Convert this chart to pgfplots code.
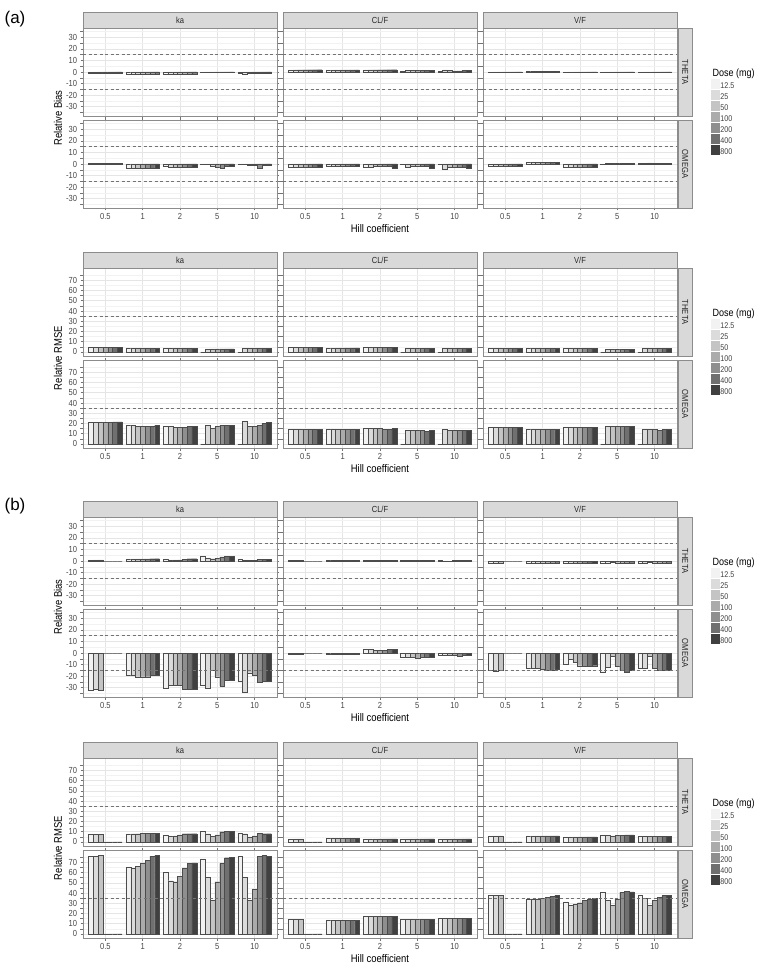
\documentclass[border=0pt]{standalone}
\usepackage{fontspec}
\setmainfont{Liberation Sans}[FakeStretch=0.86]
\newfontfamily\tagfont{Liberation Sans}
\usepackage{pgfplots}
\usepackage{pgfplotstable}
\pgfplotsset{compat=1.18}

\definecolor{g1}{gray}{0.95}
\definecolor{g2}{gray}{0.86}
\definecolor{g3}{gray}{0.77}
\definecolor{g4}{gray}{0.67}
\definecolor{g5}{gray}{0.56}
\definecolor{g6}{gray}{0.44}
\definecolor{g7}{gray}{0.25}
\definecolor{barline}{gray}{0.30}
\definecolor{stripfill}{gray}{0.85}
\definecolor{border}{gray}{0.55}
\definecolor{gridmaj}{gray}{0.90}
\definecolor{gridmin}{gray}{0.95}
\definecolor{refc}{gray}{0.45}

\newcommand\tickfont{\fontsize{8.8}{10}\selectfont}
\newcommand\stripfont{\fontsize{8.8}{10}\selectfont}
\newcommand\titlefont{\fontsize{11}{13}\selectfont}
\newcommand\legfont{\fontsize{8.3}{9}\selectfont}
\newcommand\legtitle{\fontsize{10.5}{12}\selectfont}

% ---- data: rows = Hill coefficient 0.5,1,2,5,10 ; columns = dose 12.5 ... 800 mg
% (a) relative bias
\pgfplotstableread{
h d1 d2 d3 d4 d5 d6 d7
1 -1 -1 -1 -1 -1 -1 -1
2 -1.5 -1.5 -1.5 -1.5 -1.5 -1.5 -1.5
3 -1.5 -1.5 -1.5 -1.5 -1.5 -1.5 -1.5
4 -0.3 -0.3 -0.3 -0.3 -0.3 -0.3 -0.3
5 -1 -1.5 -1 -1 -1 -1 -1
}\aBTka
\pgfplotstableread{
h d1 d2 d3 d4 d5 d6 d7
1 2 2 2 2 2 2 2
2 1.8 1.8 1.8 1.8 1.8 1.8 1.8
3 2 2 2 2 2 2 2
4 0.3 1.5 1.2 1.2 1.5 1.2 1.2
5 0.3 1.8 1.5 1 1 1.2 1.2
}\aBTcl
\pgfplotstableread{
h d1 d2 d3 d4 d5 d6 d7
1 0.2 0.2 0.2 0.2 0.2 0.2 0.2
2 0.7 0.7 0.7 0.7 0.7 0.7 0.7
3 -0.3 -0.3 -0.3 -0.3 -0.3 -0.3 -0.3
4 0.2 0.2 0.2 0.2 0.2 0.2 0.2
5 0.2 0.2 0.2 0.2 0.2 0.2 0.2
}\aBTvf
\pgfplotstableread{
h d1 d2 d3 d4 d5 d6 d7
1 0.3 0.3 0.3 0.3 0.3 0.3 0.3
2 -3.5 -3.5 -3.5 -3.5 -3.5 -3.5 -3.5
3 -2 -3 -3 -3 -3 -3 -3
4 -0.5 -0.5 -1.5 -2.5 -3.5 -2 -2
5 -0.5 -0.5 -1 -1 -3.5 -1 -1
}\aBOka
\pgfplotstableread{
h d1 d2 d3 d4 d5 d6 d7
1 -2.5 -2.5 -2.5 -2.5 -2.5 -2.5 -2.5
2 -1.8 -1.8 -1.8 -1.8 -1.8 -1.8 -1.8
3 -2.5 -2.5 -2 -2 -2 -2 -3.5
4 -0.3 -2.5 -2 -1.5 -2 -2 -3.5
5 -0.5 -4.5 -3 -2.5 -2.5 -3 -3.5
}\aBOcl
\pgfplotstableread{
h d1 d2 d3 d4 d5 d6 d7
1 -2 -2 -2 -2 -2 -2 -2
2 1.5 1.5 1.5 1.5 1.5 1.5 1.5
3 -2.5 -2.5 -2.5 -2.5 -2.5 -2.5 -2.5
4 0.2 0.7 0.7 0.7 0.7 0.7 0.7
5 0.3 0.8 1 0.8 0.8 0.8 0.8
}\aBOvf
% (a) relative RMSE
\pgfplotstableread{
h d1 d2 d3 d4 d5 d6 d7
1 4.5 4.5 4.5 4.5 4.5 4.5 4.5
2 3.8 3.8 3.8 3.8 3.8 3.8 3.8
3 3.8 3.8 3.8 3.8 3.8 3.8 3.8
4 0 3 3 3 3 3 3
5 0 3.8 3.8 3.8 3.8 3.8 3.8
}\aRTka
\pgfplotstableread{
h d1 d2 d3 d4 d5 d6 d7
1 4.2 4.2 4.2 4.2 4.2 4.2 4.2
2 4 4 4 4 4 4 4
3 4.5 4.5 4.5 4.5 4.5 4.5 4.5
4 0 3.5 3.5 3.5 3.5 3.5 3.5
5 0 3.3 3.3 3.3 3.3 3.3 3.3
}\aRTcl
\pgfplotstableread{
h d1 d2 d3 d4 d5 d6 d7
1 3.3 3.3 3.3 3.3 3.3 3.3 3.3
2 3.5 3.5 3.5 3.5 3.5 3.5 3.5
3 3.3 3.3 3.3 3.3 3.3 3.3 3.3
4 0 2.8 2.8 2.8 2.8 2.8 2.8
5 0 3.2 3.2 3.8 3.2 3.2 3.2
}\aRTvf
\pgfplotstableread{
h d1 d2 d3 d4 d5 d6 d7
1 21 21 21 21 21 21.5 21.5
2 18 18 17.5 17.5 17.5 17.5 18
3 17.5 17 16.5 16 16.5 17 17.5
4 0 18 15.5 17 18 18 18
5 0 22 17 17.5 18 20 21
}\aROka
\pgfplotstableread{
h d1 d2 d3 d4 d5 d6 d7
1 14 14 14 14 14 14 14
2 14 14 14 14 14 14 14
3 15 15 15 15 14.5 14.5 15
4 0 13.5 13.5 13 13 12.5 13.5
5 0 14 13.5 13 13 13.5 13.5
}\aROcl
\pgfplotstableread{
h d1 d2 d3 d4 d5 d6 d7
1 16.5 16.5 16.5 16.5 16.5 16.5 16.5
2 14.5 14.5 14.5 14 14 14 14
3 16.5 16.5 16 16 16 16 16
4 0 17.5 17 17 17 17 17
5 0 14 14 14 13.5 14 14
}\aROvf
% (b) relative bias
\pgfplotstableread{
h d1 d2 d3 d4 d5 d6 d7
1 1 1 1 0 0 0 0
2 1.8 1.8 1.8 1.8 1.8 2 2
3 1.8 1 1 1 1.5 2 2
4 3.8 2.8 2 2.5 3.5 3.8 3.8
5 1.8 1 0.5 0.8 1.2 1.5 1.5
}\bBTka
\pgfplotstableread{
h d1 d2 d3 d4 d5 d6 d7
1 0.5 0.5 0.5 0 0 0 0
2 0.5 0.5 0.5 0.5 0.5 0.5 0.5
3 0.3 0.3 0.3 0.3 0.3 0.3 0.3
4 0.3 0.3 0.3 0.3 0.3 0.3 0.3
5 0.3 0.2 -0.3 0.3 0.4 0.4 0.4
}\bBTcl
\pgfplotstableread{
h d1 d2 d3 d4 d5 d6 d7
1 -2 -2 -2 0 0 0 0
2 -1.5 -1.5 -1.5 -1.5 -1.5 -1.5 -1.5
3 -1.8 -1.8 -1.8 -1.8 -1.8 -1.8 -1.8
4 -1.5 -1.5 -1 -1.5 -1.5 -1.5 -1.5
5 -1.5 -1.8 -1 -1.5 -1.5 -1.5 -1.5
}\bBTvf
\pgfplotstableread{
h d1 d2 d3 d4 d5 d6 d7
1 -32 -31 -32 0 0 0 0
2 -19.5 -19.5 -20.5 -20.5 -20.5 -19 -19
3 -30 -28 -27.5 -28 -31 -31.5 -31
4 -27.5 -30 -15 -20.5 -28.5 -23.5 -23.5
5 -24.5 -34 -17 -19.5 -25.5 -24 -24
}\bBOka
\pgfplotstableread{
h d1 d2 d3 d4 d5 d6 d7
1 -1 -1 -1 0 0 0 0
2 -1 -1 -1 -1 -1 -1 -1
3 3 3 2.5 2.5 2.5 3 3
4 -3.5 -3.5 -4 -4.5 -4 -3.5 -3.5
5 -1.5 -1.5 -2 -2 -3 -2 -2
}\bBOcl
\pgfplotstableread{
h d1 d2 d3 d4 d5 d6 d7
1 -15 -15.5 -14.5 0 0 0 0
2 -13.5 -13.5 -13.5 -14 -14.5 -15 -14
3 -10 -5 -8 -11 -11.5 -11.5 -11
4 -16.5 -12 -3 -11.5 -15 -16.5 -15
5 -13.5 -13.5 -3 -13.5 -15 -14.5 -14.5
}\bBOvf
% (b) relative RMSE
\pgfplotstableread{
h d1 d2 d3 d4 d5 d6 d7
1 7.5 7.5 7.5 0 0 0 0
2 8 8 8 8.5 8.5 8.5 8.5
3 7 6 6 7 8 8 8
4 10.5 8 5.5 7 10 10.5 10.5
5 8.5 8 5 6 8.5 8 8
}\bRTka
\pgfplotstableread{
h d1 d2 d3 d4 d5 d6 d7
1 3 3 3 0 0 0 0
2 3.5 3.5 3.5 3.5 3.5 3.5 3.5
3 3 3 3 3 3 3 3
4 3 3 3 3 3 3 3
5 3 3 3 3 3 3 3
}\bRTcl
\pgfplotstableread{
h d1 d2 d3 d4 d5 d6 d7
1 6 6 6 0 0 0 0
2 6 6 6 6 6 6 6
3 5 5 5 5 5 5 5
4 7 6.5 6 6.5 6.5 7 7
5 5.5 5.5 5.5 5.5 5.5 5.5 5.5
}\bRTvf
\pgfplotstableread{
h d1 d2 d3 d4 d5 d6 d7
1 76 76 77 0 0 0 0
2 65.5 64 66 69 72 76 76.5
3 60 52 51 56 64.5 69 69.5
4 73.5 55 33 51 69 74.5 75
5 76 55.5 33 44 75.5 76.5 76
}\bROka
\pgfplotstableread{
h d1 d2 d3 d4 d5 d6 d7
1 14 14 14 0 0 0 0
2 13.5 13.5 13.5 13.5 13.5 13.5 13.5
3 17 17 17 17 17 17 17
4 14.5 14.5 14.5 14.5 14.5 14.5 14.5
5 15 15 15 15 15 15 15
}\bROcl
\pgfplotstableread{
h d1 d2 d3 d4 d5 d6 d7
1 37.5 37.5 37.5 0 0 0 0
2 33.5 33.5 34 34.5 35.5 37 37.5
3 31.5 28 29 30.5 32.5 34 34.5
4 40.5 32.5 28 34 40.5 41.5 41
5 37.5 35 28 32.5 35.5 37.5 37.5
}\bROvf

\pgfplotsset{
  facet/.style={
    anchor=north west, scale only axis, width=194pt, height=88pt,
    xmin=0.4, xmax=5.6, xtick={1,2,3,4,5}, xticklabels={0.5,1,2,5,10},
    axis line style={draw=border, line width=0.6pt},
    xmajorgrids=true, ymajorgrids=true, yminorgrids=true,
    major grid style={draw=gridmaj, line width=0.5pt},
    minor grid style={draw=gridmin, line width=0.3pt},
    xminorticks=false, yminorticks=false,
    tick align=outside, major tick length=2.5pt,
    tick style={draw=black!55, line width=0.5pt},
    tick label style={font=\tickfont, text=black!72},
    xticklabel style={yshift=1pt},
    clip=false,
  },
  biasy/.style={ymin=-38, ymax=38, ytick={-30,-20,-10,0,10,20,30},
    yticklabels={-30,-20,-10,0,10,20,30},
    minor ytick={-35,-25,-15,-5,5,15,25,35}},
  rmsey/.style={ymin=-4, ymax=82, ytick={0,10,20,30,40,50,60,70},
    yticklabels={0,10,20,30,40,50,60,70},
    minor ytick={5,15,25,35,45,55,65,75}},
  inner/.style={yticklabels={}, ymajorticks=false},
  toprow/.style={xticklabels={}, xmajorticks=false},
  dose/.style 2 args={ybar, bar width=0.128571, bar shift=#1,
    fill=#2, draw=barline, line width=0.35pt},
  doselegend/.style={
    legend entries={12.5,25,50,100,200,400,800},
    legend image code/.code={\fill[##1, draw=none] (0pt,-2.5pt) rectangle (9.5pt,7.3pt);},
    legend cell align=left,
    legend style={at={(1.175,0.42)}, anchor=north west, draw=none, fill=none,
      inner sep=0pt, outer sep=0pt, row sep=0pt, font=\legfont, text=black!75,
      nodes={inner sep=0pt, outer sep=0pt},
      /tikz/every even column/.append style={column sep=2.5pt}},
  },
}

\newcommand\bars[1]{%
  \addplot[dose={-0.385714}{g1}] table[x=h, y=d1] {#1};
  \addplot[dose={-0.257143}{g2}] table[x=h, y=d2] {#1};
  \addplot[dose={-0.128571}{g3}] table[x=h, y=d3] {#1};
  \addplot[dose={0}{g4}] table[x=h, y=d4] {#1};
  \addplot[dose={0.128571}{g5}] table[x=h, y=d5] {#1};
  \addplot[dose={0.257143}{g6}] table[x=h, y=d6] {#1};
  \addplot[dose={0.385714}{g7}] table[x=h, y=d7] {#1};
}
\newcommand\refline[1]{%
  \addplot[sharp plot, forget plot, draw=refc, line width=0.6pt,
    dash pattern=on 3pt off 2.5pt] coordinates {(0.4,#1) (5.6,#1)};}
\newcommand\topstrip[1]{%
  \draw[fill=stripfill, draw=border, line width=0.6pt]
    (rel axis cs:0,1) rectangle ([yshift=16pt]rel axis cs:1,1);
  \node[font=\stripfont, text=black!85] at ([yshift=8pt]rel axis cs:0.5,1) {#1};}
\newcommand\sidestrip[1]{%
  \draw[fill=stripfill, draw=border, line width=0.6pt]
    ([xshift=1.5pt]rel axis cs:1,0) rectangle ([xshift=15pt]rel axis cs:1,1);
  \node[font=\stripfont, text=black!85, rotate=-90] at ([xshift=8.25pt]rel axis cs:1,0.5) {#1};}
% #1 x, #2 y, #3 options, #4 table, #5 extras
\newcommand\panel[5]{%
  \begin{axis}[facet, at={(#1pt,#2pt)}, #3]
    \bars{#4}
    #5
  \end{axis}}

\begin{document}
\begin{tikzpicture}
\path[use as bounding box] (0pt,0pt) rectangle (764pt,-976pt);

% ===== (a) relative bias
\panel{83}{-28}{biasy, toprow}{\aBTka}{\refline{15}\refline{-15}\topstrip{ka}}
\panel{283}{-28}{biasy, toprow, inner}{\aBTcl}{\refline{15}\refline{-15}\topstrip{CL/F}}
\panel{483}{-28}{biasy, toprow, inner, doselegend}{\aBTvf}{\refline{15}\refline{-15}\topstrip{V/F}\sidestrip{THETA}}
\panel{83}{-120}{biasy}{\aBOka}{\refline{15}\refline{-15}}
\panel{283}{-120}{biasy, inner}{\aBOcl}{\refline{15}\refline{-15}}
\panel{483}{-120}{biasy, inner}{\aBOvf}{\refline{15}\refline{-15}\sidestrip{OMEGA}}
\node[font=\titlefont, rotate=90] at (58pt,-118pt) {Relative Bias};
\node[font=\titlefont] at (380pt,-229pt) {Hill coefficient};
\node[font=\legtitle, anchor=west] at (709pt,-74pt) {Dose (mg)};
\node[font=\tagfont\fontsize{17}{20}\selectfont] at (15pt,-19pt) {(a)};

% ===== (a) relative RMSE
\panel{83}{-268}{rmsey, toprow}{\aRTka}{\refline{35}\topstrip{ka}}
\panel{283}{-268}{rmsey, toprow, inner}{\aRTcl}{\refline{35}\topstrip{CL/F}}
\panel{483}{-268}{rmsey, toprow, inner, doselegend}{\aRTvf}{\refline{35}\topstrip{V/F}\sidestrip{THETA}}
\panel{83}{-360}{rmsey}{\aROka}{\refline{35}}
\panel{283}{-360}{rmsey, inner}{\aROcl}{\refline{35}}
\panel{483}{-360}{rmsey, inner}{\aROvf}{\refline{35}\sidestrip{OMEGA}}
\node[font=\titlefont, rotate=90] at (58pt,-358pt) {Relative RMSE};
\node[font=\titlefont] at (380pt,-469pt) {Hill coefficient};
\node[font=\legtitle, anchor=west] at (709pt,-314pt) {Dose (mg)};

% ===== (b) relative bias
\panel{83}{-517}{biasy, toprow}{\bBTka}{\refline{15}\refline{-15}\topstrip{ka}}
\panel{283}{-517}{biasy, toprow, inner}{\bBTcl}{\refline{15}\refline{-15}\topstrip{CL/F}}
\panel{483}{-517}{biasy, toprow, inner, doselegend}{\bBTvf}{\refline{15}\refline{-15}\topstrip{V/F}\sidestrip{THETA}}
\panel{83}{-609}{biasy}{\bBOka}{\refline{15}\refline{-15}}
\panel{283}{-609}{biasy, inner}{\bBOcl}{\refline{15}\refline{-15}}
\panel{483}{-609}{biasy, inner}{\bBOvf}{\refline{15}\refline{-15}\sidestrip{OMEGA}}
\node[font=\titlefont, rotate=90] at (58pt,-607pt) {Relative Bias};
\node[font=\titlefont] at (380pt,-718pt) {Hill coefficient};
\node[font=\legtitle, anchor=west] at (709pt,-563pt) {Dose (mg)};
\node[font=\tagfont\fontsize{17}{20}\selectfont] at (15pt,-506pt) {(b)};

% ===== (b) relative RMSE
\panel{83}{-758}{rmsey, toprow}{\bRTka}{\refline{35}\topstrip{ka}}
\panel{283}{-758}{rmsey, toprow, inner}{\bRTcl}{\refline{35}\topstrip{CL/F}}
\panel{483}{-758}{rmsey, toprow, inner, doselegend}{\bRTvf}{\refline{35}\topstrip{V/F}\sidestrip{THETA}}
\panel{83}{-850}{rmsey}{\bROka}{\refline{35}}
\panel{283}{-850}{rmsey, inner}{\bROcl}{\refline{35}}
\panel{483}{-850}{rmsey, inner}{\bROvf}{\refline{35}\sidestrip{OMEGA}}
\node[font=\titlefont, rotate=90] at (58pt,-848pt) {Relative RMSE};
\node[font=\titlefont] at (380pt,-959pt) {Hill coefficient};
\node[font=\legtitle, anchor=west] at (709pt,-804pt) {Dose (mg)};
\end{tikzpicture}
\end{document}
